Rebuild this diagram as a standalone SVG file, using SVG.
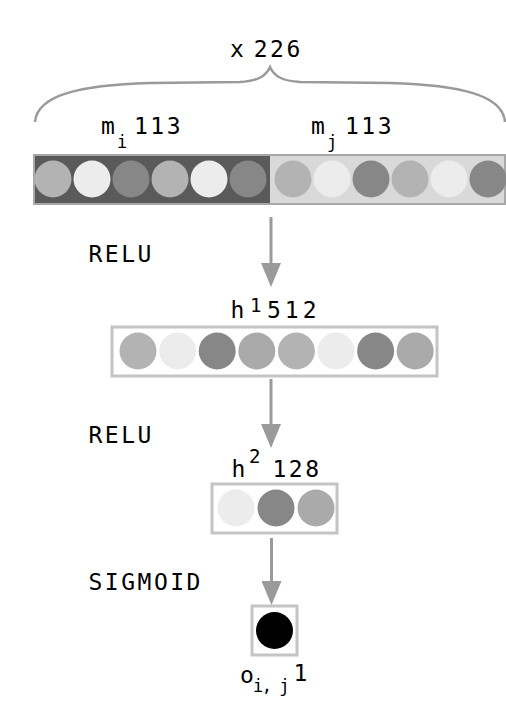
<svg xmlns="http://www.w3.org/2000/svg" width="506" height="702" viewBox="0 0 506 702">
<style>
text{font-family:"DejaVu Sans Mono","Liberation Mono",monospace;font-size:23px;fill:#000;letter-spacing:2.5px}
.sub{font-size:17px;letter-spacing:0px}
.sup{font-size:19px;letter-spacing:0px}
.box{fill:#fff;stroke:#c4c4c4;stroke-width:3}
.c1{fill:#b3b3b3}.c2{fill:#ececec}.c3{fill:#878787}.c4{fill:#aaaaaa}
.arr{stroke:#9a9a9a;stroke-width:3;fill:none;marker-end:url(#ah)}
.brace{stroke:#9a9a9a;stroke-width:2.5;fill:none}
</style>
<defs>
<marker id="ah" viewBox="0 0 24 20" refX="12" refY="10" markerWidth="24" markerHeight="20" markerUnits="userSpaceOnUse" orient="auto">
<path d="M0,0 L24,10 L0,20 z" fill="#9a9a9a"/>
</marker>
</defs>
<rect width="506" height="702" fill="#fff"/>

<g id="x-brace">
<path class="brace" d="M35,122 C37,95 80,85 150,83 L240,82 C258,81 266,76 270,67 C274,76 282,81 300,82 L390,83 C460,85 503,95 505,122"/>
<text x="230" y="57" style="word-spacing:-9px">x 226</text>
</g>

<g id="input">
<rect x="34" y="155" width="236" height="49" fill="#5a5a5a"/>
<rect x="270" y="155" width="235" height="49" fill="#d9d9d9"/>
<rect x="34" y="155" width="471" height="49" fill="none" stroke="#a8a8a8" stroke-width="2"/>
<circle class="c1" cx="53" cy="179" r="18.5"/>
<circle class="c2" cx="92" cy="179" r="18.5"/>
<circle class="c3" cx="131" cy="179" r="18.5"/>
<circle class="c1" cx="170" cy="179" r="18.5"/>
<circle class="c2" cx="209" cy="179" r="18.5"/>
<circle class="c3" cx="248" cy="179" r="18.5"/>
<circle class="c1" cx="293" cy="179" r="18.5"/>
<circle class="c2" cx="332" cy="179" r="18.5"/>
<circle class="c3" cx="371" cy="179" r="18.5"/>
<circle class="c1" cx="410" cy="179" r="18.5"/>
<circle class="c2" cx="449" cy="179" r="18.5"/>
<circle class="c3" cx="488" cy="179" r="18.5"/>
<text x="101" y="134">m<tspan class="sub" x="117" y="148">i</tspan> <tspan x="134" y="134">113</tspan></text>
<text x="311" y="134">m<tspan class="sub" x="327" y="148">j</tspan> <tspan x="345" y="134">113</tspan></text>
</g>

<g id="h1">
<rect class="box" x="112" y="327" width="325" height="49"/>
<circle class="c1" cx="138" cy="351" r="18.5"/>
<circle class="c2" cx="177.6" cy="351" r="18.5"/>
<circle class="c3" cx="217.2" cy="351" r="18.5"/>
<circle class="c4" cx="256.8" cy="351" r="18.5"/>
<circle class="c1" cx="296.4" cy="351" r="18.5"/>
<circle class="c2" cx="336" cy="351" r="18.5"/>
<circle class="c3" cx="375.6" cy="351" r="18.5"/>
<circle class="c4" cx="415.2" cy="351" r="18.5"/>
<text x="230.5" y="318">h<tspan class="sup" x="250" y="312">1</tspan> <tspan x="267" y="318" style="letter-spacing:4px">512</tspan></text>
</g>

<g id="h2">
<rect class="box" x="212" y="484" width="125" height="49"/>
<circle class="c2" cx="236" cy="508" r="18.5"/>
<circle class="c3" cx="276" cy="508" r="18.5"/>
<circle class="c4" cx="316" cy="508" r="18.5"/>
<text x="231.5" y="477">h<tspan class="sup" x="249" y="463">2</tspan> <tspan x="272.5" y="477">128</tspan></text>
</g>

<g id="output">
<rect class="box" x="252" y="606" width="45" height="49"/>
<circle cx="274.5" cy="630.5" r="18.5" fill="#000"/>
<text x="240" y="683">o<tspan class="sub" x="253" y="692" style="letter-spacing:-1.5px">i, j</tspan> <tspan x="293.5" y="681">1</tspan></text>
</g>

<g id="activations">
<text x="88.5" y="262">RELU</text>
<text x="88.5" y="443">RELU</text>
<text x="88.5" y="590">SIGMOID</text>
</g>

<g id="connectors">
<line class="arr" x1="271" y1="217" x2="271" y2="275"/>
<line class="arr" x1="271" y1="379" x2="271" y2="436"/>
<line class="arr" x1="271.5" y1="538" x2="271.5" y2="593"/>
</g>
</svg>
